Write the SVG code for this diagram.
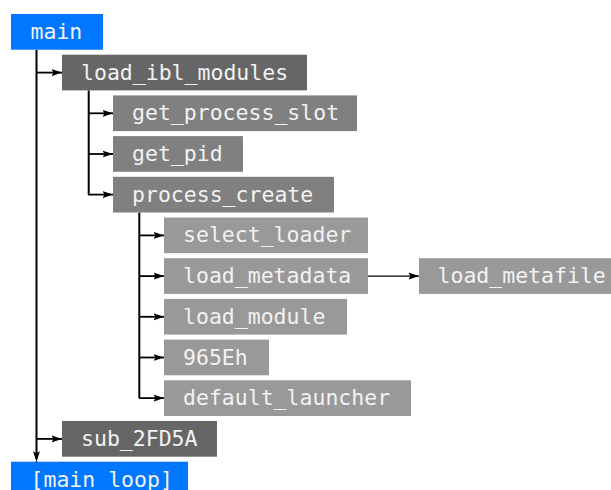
<svg xmlns="http://www.w3.org/2000/svg" width="611" height="490" viewBox="0 0 611 490">
<style>
.box text{font-family:"DejaVu Sans Mono","Liberation Mono",monospace;font-size:21.5px;fill:#f2f2f2}
.blue rect{fill:#0077ff}
.dark rect{fill:#666666}
.mid rect{fill:#808080}
.light rect{fill:#999999}
#connectors path{fill:none;stroke:#000;stroke-width:2}
#connectors .arr{stroke-width:1.8;marker-end:url(#ah)}
</style>
<defs>
<marker id="ah" markerUnits="userSpaceOnUse" markerWidth="11" markerHeight="8" refX="10.5" refY="4" orient="auto">
<path d="M0,0.5 L10.5,4 L0,7.5 L2,4 z" fill="#000"/>
</marker>
</defs>
<rect width="611" height="490" fill="#fff"/>
<g id="connectors">
<path d="M36.5,50 V459"/>
<path class="arr" d="M36.5,461 V461.7"/>
<path class="arr" d="M36.5,72.6 H62"/>
<path class="arr" d="M36.5,438.9 H62"/>
<path d="M88.7,90.4 V194.6"/>
<path class="arr" d="M88,113.3 H113"/>
<path class="arr" d="M88,154 H113"/>
<path class="arr" d="M88,194.6 H113"/>
<path d="M139.3,212.5 V398.1"/>
<path class="arr" d="M139,235.4 H164"/>
<path class="arr" d="M139,276.1 H164"/>
<path class="arr" d="M139,316.8 H164"/>
<path class="arr" d="M139,357.5 H164"/>
<path class="arr" d="M139,398.1 H164"/>
<path class="arr" style="stroke-width:1.4" d="M368,276.1 H419"/>
</g>
<g id="main" class="box blue"><rect x="11" y="14" width="92" height="35.7"/><text x="30.5" y="38.9">main</text></g>
<g id="load_ibl_modules" class="box dark"><rect x="62" y="54.7" width="245" height="35.7"/><text x="81" y="79.6">load_ibl_modules</text></g>
<g id="get_process_slot" class="box mid"><rect x="113" y="95.4" width="244" height="35.7"/><text x="132" y="120.3">get_process_slot</text></g>
<g id="get_pid" class="box mid"><rect x="113" y="136.1" width="130" height="35.7"/><text x="132" y="161">get_pid</text></g>
<g id="process_create" class="box mid"><rect x="113" y="176.8" width="221" height="35.7"/><text x="132" y="201.7">process_create</text></g>
<g id="select_loader" class="box light"><rect x="164" y="217.5" width="204" height="35.7"/><text x="183" y="242.4">select_loader</text></g>
<g id="load_metadata" class="box light"><rect x="164" y="258.2" width="204" height="35.7"/><text x="183" y="283.1">load_metadata</text></g>
<g id="load_module" class="box light"><rect x="164" y="298.9" width="183" height="35.7"/><text x="183" y="323.8">load_module</text></g>
<g id="n965Eh" class="box light"><rect x="164" y="339.6" width="105" height="35.7"/><text x="183" y="364.5">965Eh</text></g>
<g id="default_launcher" class="box light"><rect x="164" y="380.3" width="247" height="35.7"/><text x="183" y="405.2">default_launcher</text></g>
<g id="load_metafile" class="box light"><rect x="419" y="258.2" width="200" height="35.7"/><text x="437.5" y="283.1">load_metafile</text></g>
<g id="sub_2FD5A" class="box dark"><rect x="62" y="421" width="155" height="35.7"/><text x="81" y="445.9">sub_2FD5A</text></g>
<g id="main_loop" class="box blue"><rect x="11" y="461.7" width="177" height="35.7"/><text x="30.5" y="486.6">[main loop]</text></g>
</svg>
